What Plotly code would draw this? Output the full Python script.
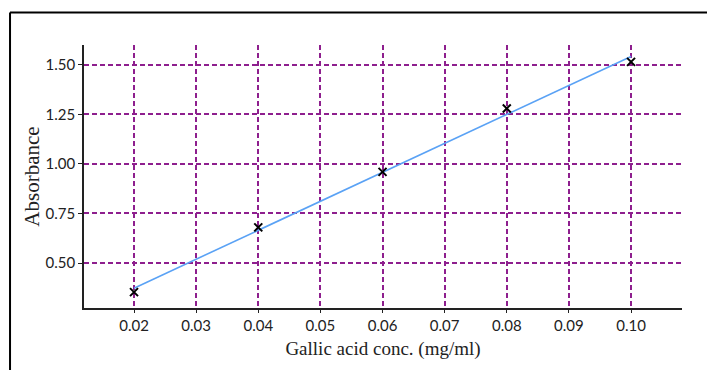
import plotly.graph_objects as go

conc = [0.02, 0.04, 0.06, 0.08, 0.10]
absorb = [0.353, 0.680, 0.960, 1.280, 1.515]
fit_x = [0.02, 0.10]
fit_y = [0.373, 1.542]
x_ticks = [0.02, 0.03, 0.04, 0.05, 0.06, 0.07, 0.08, 0.09, 0.10]
x_labels = ["0.02", "0.03", "0.04", "0.05", "0.06", "0.07", "0.08", "0.09", "0.10"]
y_ticks = [0.50, 0.75, 1.00, 1.25, 1.50]
y_labels = ["0.50", "0.75", "1.00", "1.25", "1.50"]

tick_font = dict(family="Lato, Arial", size=15, color="#222")
xtitle_font = dict(family="Liberation Serif, Times New Roman, serif", size=19, color="#222")
ytitle_font = dict(family="Liberation Serif, Times New Roman, serif", size=21, color="#222")
grid_col = "#8e1f8e"

fig = go.Figure()
fig.add_trace(go.Scatter(x=fit_x, y=fit_y, mode="lines",
                         line=dict(color="#5aa2f5", width=1.6), showlegend=False))
fig.add_trace(go.Scatter(x=conc, y=absorb, mode="markers",
                         marker=dict(symbol="x-thin", size=8, line=dict(color="black", width=2)),
                         showlegend=False))

fig.update_layout(
    width=715, height=370,
    margin=dict(l=76, r=41, t=37, b=70),
    paper_bgcolor="white", plot_bgcolor="white",
    xaxis=dict(range=[0.01195, 0.1082], tickvals=x_ticks, ticktext=x_labels,
               showgrid=True, gridcolor=grid_col, gridwidth=1.5, griddash="5px,3px",
               showline=True, linecolor="#222", linewidth=2, zeroline=False,
               ticks="outside", ticklen=3, tickcolor="#222", tickfont=tick_font,
               title=dict(text="Gallic acid conc. (mg/ml)", font=xtitle_font, standoff=9)),
    yaxis=dict(range=[0.273, 1.60], tickvals=y_ticks, ticktext=y_labels,
               showgrid=True, gridcolor=grid_col, gridwidth=1.5, griddash="5px,3px",
               showline=True, linecolor="#222", linewidth=1.5, zeroline=False,
               ticks="outside", ticklen=4, tickcolor="#222", tickfont=tick_font,
               title=dict(text="Absorbance", font=ytitle_font, standoff=0)),
    shapes=[
        dict(type="line", xref="paper", yref="paper", x0=-0.1237, x1=1.07, y0=1.1236, y1=1.1236,
             line=dict(color="black", width=2)),
        dict(type="line", xref="paper", yref="paper", x0=-0.1237, x1=-0.1237, y0=1.1236, y1=-0.26,
             line=dict(color="black", width=2)),
    ],
)

fig.write_html("out.html")
